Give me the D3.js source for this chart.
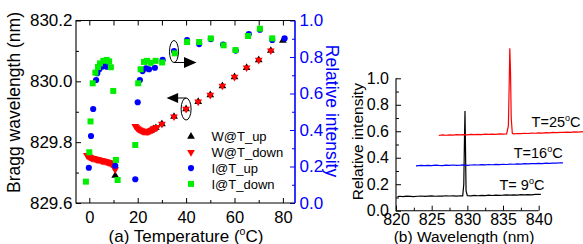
<!DOCTYPE html>
<html>
<head>
<meta charset="utf-8">
<script src="https://cdn.jsdelivr.net/npm/d3@7"></script>
<style>
body { margin: 0; background: #fff; }
svg { font-family: "Liberation Sans", Arial, sans-serif; }
</style>
</head>
<body>
<svg id="chart" width="583" height="244"></svg>
<script>
// ---- (a) Bragg wavelength / relative intensity vs temperature ----
var wUpT = [10.7, 25.5, 26.5, 27.5, 30, 35, 40, 45, 50, 55, 60, 65, 70, 75, 80];
var wUpW = [829.690, 829.839, 829.843, 829.847, 829.860, 829.884, 829.909, 829.933, 829.955, 829.985, 830.014, 830.045, 830.070, 830.101, 830.134];

var wDownT = [-1.0, -0.5, 0.0, 0.5, 1.0, 1.5, 2.0, 2.5, 3.0, 3.5, 4.0, 4.5, 5.0, 5.5, 6.0, 6.5, 7.0, 7.5, 8.0, 8.5, 9.0, 9.5, 10.0, 10.3, 10.7,
              19.0, 19.5, 20.0, 20.5, 21.0, 21.5, 22.0, 22.5, 23.0, 23.5, 24.0, 24.5, 25.0, 25.5, 26.0, 26.5, 27.0, 27.5, 28.0,
              30, 35, 40, 45, 50, 55, 60, 65, 70, 75];
var wDownW = [829.757, 829.754, 829.752, 829.750, 829.748, 829.747, 829.746, 829.745, 829.744, 829.743, 829.742, 829.741, 829.740, 829.739, 829.738, 829.737, 829.736, 829.735, 829.734, 829.732, 829.730, 829.727, 829.722, 829.716, 829.710,
              829.852, 829.848, 829.845, 829.842, 829.840, 829.838, 829.837, 829.836, 829.835, 829.835, 829.835, 829.836, 829.837, 829.839, 829.841, 829.843, 829.845, 829.847, 829.849,
              829.860, 829.884, 829.909, 829.933, 829.955, 829.985, 830.014, 830.045, 830.070, 830.101];

var iUpT = [-0.2, 0.7, 1.6, 2.8, 3.3, 4.1, 5.2, 6.2, 7.2, 10.7, 19.0, 20.0, 20.9, 22.0, 23.4, 24.7, 27.1, 30.3, 35.0, 40.4, 45.4, 50.2, 55.3, 60.5, 65.9, 70.5, 75.6, 80.7];
var iUpI = [0.193, 0.367, 0.515, 0.674, 0.711, 0.733, 0.747, 0.755, 0.747, 0.204, 0.130, 0.552, 0.674, 0.723, 0.738, 0.733, 0.741, 0.784, 0.833, 0.893, 0.871, 0.898, 0.868, 0.835, 0.926, 0.950, 0.893, 0.902];

var iDownT = [-1.4, 0.0, 0.5, 1.4, 2.5, 3.6, 4.4, 5.8, 7.2, 8.2, 8.9, 9.9, 11.0, 11.7, 19.0, 20.2, 21.2, 22.6, 23.9, 25.3, 27.4, 30.1, 35.3, 40.4, 45.4, 50.2, 55.5, 60.4, 65.6, 70.5, 75.6];
var iDownI = [0.117, 0.278, 0.447, 0.656, 0.714, 0.745, 0.765, 0.779, 0.784, 0.776, 0.744, 0.614, 0.236, 0.126, 0.318, 0.656, 0.733, 0.773, 0.779, 0.768, 0.779, 0.770, 0.820, 0.882, 0.882, 0.902, 0.864, 0.838, 0.915, 0.955, 0.902];

var tempTicks = [0, 20, 40, 60, 80];
var tempMinor = [10, 30, 50, 70];
var wTicks = [829.6, 829.8, 830.0, 830.2];
var wMinor = [829.7, 829.9, 830.1];
var iTicks = [0, 0.2, 0.4, 0.6, 0.8, 1.0];
var iMinor = [0.1, 0.3, 0.5, 0.7, 0.9];
var legendNames = ["W@T_up", "W@T_down", "I@T_up", "I@T_down"];

// ---- (b) spectra ----
var blackWl = [820.2, 820.5, 821, 821.5, 822, 822.5, 823, 823.5, 824, 824.5, 825, 825.5, 826, 826.5, 827, 827.5, 828, 828.5, 829, 829.35,
               829.5, 829.6, 829.67, 829.74, 829.82, 830, 830.5, 831, 831.5, 832, 832.5, 833, 833.5, 834, 834.5, 835, 835.5, 836, 836.5,
               837, 837.5, 838, 838.5, 839, 839.5, 840.3];
var blackI = [0.106, 0.109, 0.107, 0.110, 0.108, 0.106, 0.109, 0.111, 0.108, 0.110, 0.112, 0.109, 0.111, 0.110, 0.113, 0.111, 0.112, 0.110, 0.113, 0.112,
              0.20, 0.55, 0.753, 0.47, 0.15, 0.114, 0.112, 0.115, 0.113, 0.116, 0.114, 0.117, 0.115, 0.118, 0.116, 0.117, 0.119, 0.117, 0.120,
              0.118, 0.121, 0.119, 0.122, 0.120, 0.123, 0.124];
var blueWl = [822.8, 823.5, 824, 824.5, 825, 825.5, 826, 826.5, 827, 827.5, 828, 828.5, 829, 829.5, 830, 830.5, 831, 831.5, 832, 832.5, 833,
              833.5, 834, 834.5, 835, 835.5, 836, 836.5, 837, 837.5, 838, 838.5, 839, 839.5, 840, 840.5, 841, 841.5, 842, 842.5, 843, 843.4];
var blueI = [0.338, 0.342, 0.340, 0.343, 0.341, 0.344, 0.342, 0.341, 0.344, 0.342, 0.345, 0.343, 0.344, 0.346, 0.343, 0.345, 0.347, 0.345, 0.348, 0.346, 0.349,
             0.347, 0.350, 0.348, 0.351, 0.349, 0.352, 0.351, 0.353, 0.352, 0.355, 0.353, 0.356, 0.355, 0.357, 0.356, 0.359, 0.358, 0.360, 0.359, 0.362, 0.361];
var redWl = [826, 826.5, 827, 827.5, 828, 828.5, 829, 829.5, 830, 830.5, 831, 831.5, 832, 832.5, 833, 833.5, 834, 834.5, 835, 835.5,
             835.75, 835.88, 835.95, 836.05, 836.15, 836.3, 836.5, 837, 837.5, 838, 838.5, 839, 839.5, 840, 840.5, 841, 841.5, 842, 842.5,
             843, 843.5, 844, 844.5, 845, 845.5, 846.3];
var redI = [0.568, 0.572, 0.570, 0.573, 0.571, 0.574, 0.572, 0.575, 0.573, 0.576, 0.574, 0.577, 0.575, 0.578, 0.576, 0.579, 0.577, 0.580, 0.578, 0.580,
            0.64, 1.00, 1.227, 1.05, 0.70, 0.585, 0.581, 0.583, 0.582, 0.585, 0.583, 0.586, 0.585, 0.588, 0.586, 0.589, 0.588, 0.591, 0.589,
            0.592, 0.591, 0.594, 0.592, 0.595, 0.594, 0.597];
var wlTicks = [820, 825, 830, 835, 840];
var wlMinor = [822.5, 827.5, 832.5, 837.5];
var specTicks = [0, 0.2, 0.4, 0.6, 0.8, 1.0];
var specMinor = [0.1, 0.3, 0.5, 0.7, 0.9];
var specLabels = [
    {t: "25", wl: 839.0, i: 0.63},
    {t: "16", wl: 836.5, i: 0.395},
    {t: " 9", wl: 834.5, i: 0.155}
];

var BLUE = "#0000ff", RED = "#ff0000", GREEN = "#00ee00";
var f1 = d3.format(".1f");

var svg = d3.select("#chart");

// ============ panel (a) ============
var x = d3.scaleLinear().domain([-5.5, 85]).range([76, 295]);
var yW = d3.scaleLinear().domain([829.6, 830.2]).range([203, 20.5]);
var yI = d3.scaleLinear().domain([0, 1]).range([203, 20.5]);

function tidy(g) {
    g.select(".domain").remove();
    g.selectAll("text").attr("font-size", 17);
}

svg.append("g").attr("transform", "translate(0,203)")
    .call(d3.axisBottom(x).tickValues(tempTicks).tickSizeInner(-5).tickSizeOuter(0).tickPadding(8.5))
    .call(tidy)
    .selectAll("text").attr("font-size", 16.5);
svg.append("g").attr("transform", "translate(0,203)")
    .call(d3.axisBottom(x).tickValues(tempMinor).tickSizeInner(-3).tickSizeOuter(0).tickFormat(""))
    .call(tidy);
svg.append("g").attr("transform", "translate(0,20.5)")
    .call(d3.axisTop(x).tickValues(tempTicks.concat(tempMinor)).tickSizeInner(-5).tickSizeOuter(0).tickFormat(""))
    .call(tidy);
svg.append("g").attr("transform", "translate(76,0)")
    .call(d3.axisLeft(yW).tickValues(wTicks).tickFormat(f1).tickSizeInner(-5).tickSizeOuter(0).tickPadding(3.5))
    .call(tidy);
svg.append("g").attr("transform", "translate(76,0)")
    .call(d3.axisLeft(yW).tickValues(wMinor).tickFormat("").tickSizeInner(-3).tickSizeOuter(0))
    .call(tidy);
var rAx = svg.append("g").attr("transform", "translate(295,0)")
    .call(d3.axisRight(yI).tickValues(iTicks).tickFormat(f1).tickSizeInner(-5).tickSizeOuter(0).tickPadding(4.5))
    .call(tidy);
var rAx2 = svg.append("g").attr("transform", "translate(295,0)")
    .call(d3.axisRight(yI).tickValues(iMinor).tickFormat("").tickSizeInner(-3).tickSizeOuter(0))
    .call(tidy);
[rAx, rAx2].forEach(function(g) {
    g.selectAll("line").attr("stroke", BLUE);
    g.selectAll("text").attr("fill", BLUE);
});

// frame
var fr = svg.append("g").attr("fill", "none").attr("stroke-width", 1.1);
fr.append("path").attr("stroke", "#000")
    .attr("d", "M" + x.range()[1] + "," + yW.range()[1] + "H" + x.range()[0] + "V" + yW.range()[0] + "H" + x.range()[1]);
fr.append("line").attr("stroke", BLUE).attr("stroke-width", 1.6)
    .attr("x1", x.range()[1]).attr("x2", x.range()[1])
    .attr("y1", yI.range()[0]).attr("y2", yI.range()[1]);

// markers
var triUp = d3.symbol().type(d3.symbolTriangle).size(26);
var circ = d3.symbol().type(d3.symbolCircle).size(30);
var sq = d3.symbol().type(d3.symbolSquare).size(36);

function zip(a, b) { return a.map(function(v, i) { return [v, b[i]]; }); }

svg.append("g").selectAll("path").data(zip(wUpT, wUpW)).enter().append("path")
    .attr("d", triUp).attr("fill", "#000")
    .attr("transform", function(d) { return "translate(" + x(d[0]) + "," + yW(d[1]) + ")"; });
svg.append("g").selectAll("path").data(zip(wDownT, wDownW)).enter().append("path")
    .attr("d", triUp).attr("fill", RED)
    .attr("transform", function(d) { return "translate(" + x(d[0]) + "," + yW(d[1]) + ") rotate(180)"; });
svg.append("g").selectAll("path").data(zip(iUpT, iUpI)).enter().append("path")
    .attr("d", circ).attr("fill", BLUE)
    .attr("transform", function(d) { return "translate(" + x(d[0]) + "," + yI(d[1]) + ")"; });
svg.append("g").selectAll("path").data(zip(iDownT, iDownI)).enter().append("path")
    .attr("d", sq).attr("fill", GREEN)
    .attr("transform", function(d) { return "translate(" + x(d[0]) + "," + yI(d[1]) + ")"; });

// annotation ellipses + arrows
var e1x = x(35), e1y = yI(0.83);
var e2x = x(40), e2y = yW(829.909);
var ann = svg.append("g").attr("stroke", "#000").attr("stroke-width", 1);
ann.append("ellipse").attr("cx", e1x).attr("cy", e1y).attr("rx", 4.5).attr("ry", 11).attr("fill", "none");
ann.append("line").attr("x1", e1x).attr("y1", e1y + 11).attr("x2", e1x + 11).attr("y2", e1y + 11);
ann.append("path").attr("fill", "#000").attr("stroke", "none")
    .attr("d", "M" + (e1x + 10) + "," + (e1y + 5.5) + "L" + (e1x + 22.5) + "," + (e1y + 11) + "L" + (e1x + 10) + "," + (e1y + 16.5) + "Z");
ann.append("ellipse").attr("cx", e2x).attr("cy", e2y).attr("rx", 5).attr("ry", 11).attr("fill", "none");
ann.append("line").attr("x1", e2x).attr("y1", e2y - 11).attr("x2", e2x - 8.5).attr("y2", e2y - 11);
ann.append("path").attr("fill", "#000").attr("stroke", "none")
    .attr("d", "M" + (e2x - 8) + "," + (e2y - 16) + "L" + (e2x - 19.5) + "," + (e2y - 11) + "L" + (e2x - 8) + "," + (e2y - 6) + "Z");

// legend
var legSyms = [
    {d: triUp, fill: "#000", rot: 0},
    {d: triUp, fill: RED, rot: 180},
    {d: circ, fill: BLUE, rot: 0},
    {d: sq, fill: GREEN, rot: 0}
];
var leg = svg.append("g").selectAll("g").data(legendNames).enter().append("g")
    .attr("transform", function(d, i) { return "translate(191," + (136.5 + i * 15.8) + ")"; });
leg.append("path")
    .attr("d", function(d, i) { return legSyms[i].d(); })
    .attr("fill", function(d, i) { return legSyms[i].fill; })
    .attr("transform", function(d, i) { return "rotate(" + legSyms[i].rot + ")"; });
leg.append("text").attr("x", 20.5).attr("dy", "0.36em").attr("font-size", 13).text(function(d) { return d; });

// axis titles
svg.append("text").attr("transform", "translate(20,102.5) rotate(-90)")
    .attr("text-anchor", "middle").attr("font-size", 17.5).text("Bragg wavelength (nm)");
svg.append("text").attr("transform", "translate(326,111) rotate(90)")
    .attr("text-anchor", "middle").attr("font-size", 17.5).attr("fill", BLUE).text("Relative intensity");
var xt = svg.append("text").attr("x", 186).attr("y", 241.5).attr("text-anchor", "middle").attr("font-size", 17);
xt.append("tspan").text("(a) Temperature (");
xt.append("tspan").attr("font-size", 10.5).attr("dy", -7).text("o");
xt.append("tspan").attr("dy", 7).text("C)");

// ============ panel (b) ============
var xb = d3.scaleLinear().domain([820, 840]).range([396, 538.7]);
var yb = d3.scaleLinear().domain([0, 1]).range([210.7, 78.3]);

svg.append("g").attr("transform", "translate(0,210.7)")
    .call(d3.axisBottom(xb).tickValues(wlTicks).tickSizeInner(-5).tickSizeOuter(0).tickPadding(3))
    .call(tidy)
    .selectAll("text").attr("font-size", 16);
svg.append("g").attr("transform", "translate(0,210.7)")
    .call(d3.axisBottom(xb).tickValues(wlMinor).tickFormat("").tickSizeInner(-3).tickSizeOuter(0))
    .call(tidy);
svg.append("g").attr("transform", "translate(396,0)")
    .call(d3.axisLeft(yb).tickValues(specTicks).tickFormat(f1).tickSizeInner(-5).tickSizeOuter(0).tickPadding(7))
    .call(tidy)
    .selectAll("text").attr("font-size", 16);
svg.append("g").attr("transform", "translate(396,0)")
    .call(d3.axisLeft(yb).tickValues(specMinor).tickFormat("").tickSizeInner(-3).tickSizeOuter(0))
    .call(tidy);
svg.append("path").attr("fill", "none").attr("stroke", "#000").attr("stroke-width", 1.1)
    .attr("d", "M" + xb.range()[0] + "," + yb.range()[1] + "V" + yb.range()[0] + "H" + xb.range()[1]);

var line = d3.line().x(function(d) { return xb(d[0]); }).y(function(d) { return yb(d[1]); });
[[blackWl, blackI, "#000"], [blueWl, blueI, BLUE], [redWl, redI, RED]].forEach(function(s) {
    svg.append("path").datum(zip(s[0], s[1]))
        .attr("fill", "none").attr("stroke", s[2]).attr("stroke-width", 1.2)
        .attr("d", line);
});

specLabels.forEach(function(l) {
    var t = svg.append("text").attr("x", xb(l.wl)).attr("y", yb(l.i)).attr("font-size", 14.5).attr("xml:space", "preserve");
    t.append("tspan").text("T=" + l.t);
    t.append("tspan").attr("font-size", 9).attr("dy", -6).text("o");
    t.append("tspan").attr("dy", 6).text("C");
});

svg.append("text").attr("transform", "translate(362.5,141.7) rotate(-90)")
    .attr("text-anchor", "middle").attr("font-size", 15.5).text("Relative intensity");
svg.append("text").attr("x", 464).attr("y", 242).attr("text-anchor", "middle").attr("font-size", 15.5)
    .text("(b) Wavelength (nm)");
</script>
</body>
</html>
